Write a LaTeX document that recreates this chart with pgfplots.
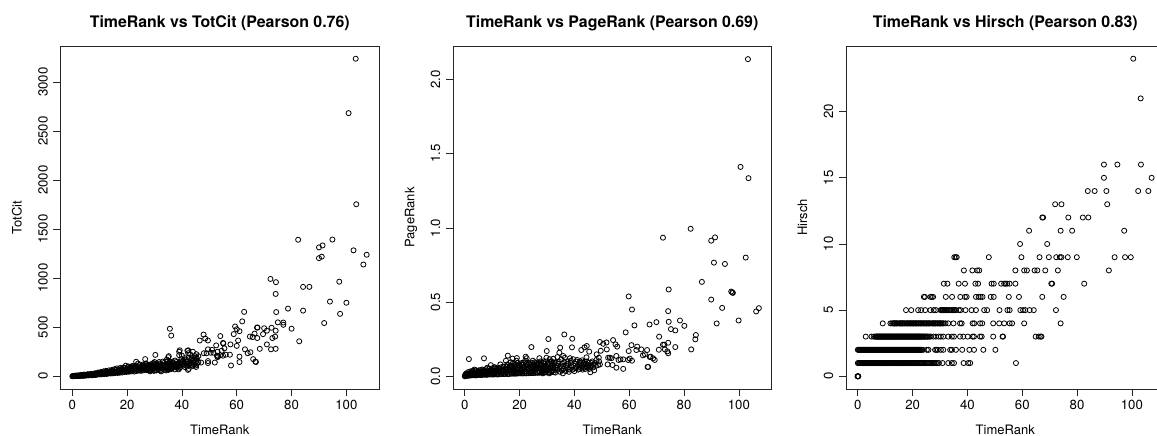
\documentclass[border=0pt]{standalone}
\usepackage{pgfplots}
\usepackage{fontspec}
\setmainfont{TeX Gyre Heros}
\pgfplotsset{compat=1.18}
\pgfplotsset{rstyle/.style={
  scale only axis, width=318.5pt, height=343pt,
  axis line style={line width=0.75pt,black!85},
  tick style={line width=0.7pt,black!85},
  tick align=outside, major tick length=7pt,
  xtick pos=bottom, ytick pos=left,
  xmin=-4.3, xmax=111.9,
  xtick={0,20,40,60,80,100},
  xticklabels={0,20,40,60,80,100},
  ticklabel style={font=\fontsize{13.2pt}{15pt}\selectfont},
  xticklabel style={anchor=center,yshift=-9pt},
  yticklabel style={rotate=90,anchor=center,yshift=10.5pt},
  label style={font=\fontsize{13pt}{15pt}\selectfont},
  xlabel=TimeRank,
  xlabel style={at={(axis description cs:0.5,0)},anchor=center,yshift=-41.3pt},
  title style={at={(axis description cs:0.5,1)},anchor=center,yshift=16.5pt,font=\fontsize{15.9pt}{18pt}\selectfont\bfseries},
  pts/.style={only marks,mark=o,mark size=2.55pt,mark options={line width=0.8pt,draw=black,fill=none}},
}}
\begin{document}
\begin{tikzpicture}
\path[use as bounding box] (0pt,0pt) rectangle (1157pt,436pt);
% ---------- Panel 1
\begin{axis}[rstyle,at={(60.5pt,47pt)},anchor=south west,
  ymin=-130,ymax=3370,
  ytick={0,500,1000,1500,2000,2500,3000},
  yticklabels={0,500,1000,1500,2000,2500,3000},
  ylabel=TotCit,
  ylabel style={at={(axis description cs:0,0.5)},rotate=0,anchor=center,yshift=43.5pt},
  title={TimeRank vs TotCit (Pearson 0.76)}]
\addplot[pts] coordinates {
(103.4,3240)(100.8,2685)(103.6,1755)(82.4,1393)(94.9,1395)(91.3,1335)(90,1315)(102.6,1285)(107.4,1240)(106.2,1140)(91,1220)(90,1205)
(72.3,993)(74.3,960)(97.4,965)(84.2,912)(86.5,912)(74.2,840)(94,762)(100,750)(78.7,690)(84.2,670)(74.4,655)(62.7,657)(97.7,637)
(75,550)(77,548)(77,525)(62,560)(91.9,543)(59.4,508)(60,480)(61,460)(67.4,497)(67.6,497)(70,490)(72.7,495)(71,465)(74.2,465)(80,485)
(58.9,430)(64.8,405)(65.8,400)(66.5,435)(67.5,390)(69.6,430)(73,390)(74,405)(82.8,357)(60.5,365)(60,310)(57.7,325)(55,340)(55.1,335)
(54,410)(52.5,315)(47.9,425)(48.5,385)(49.5,365)(46.5,365)(35.6,485)(36.1,415)(71,325)(68.4,280)(72.5,275)(74.2,280)(63,275)(64,235)
(65,245)(66,175)(67,145)(66.8,150)(61,200)(61,145)(57.9,110)(49.5,275)(51,270)(53,250)(54.5,260)(55.5,285)(56,220)(57.5,220)(55,210)(54,215)
(53,195)(52.8,210)(53.2,205)(52,140)(49.5,135)(49.5,155)(48,235)(49,235)(50.5,240)(51.5,240)(46,145)(47,140)(44,105)(45,110)(45.5,130)
(45.3,225)(45,190)(44.5,170)(44,250)(43,225)(42.3,265)(42,260)(42.3,235)(41.5,170)(42,100)(42.2,65)(42.5,75)(41,120)(40,140)(40,210)(39.2,265)(39,250)(39,215)(38.8,70)
(38,120)(37,130)(36.5,150)(35.2,205)(35,195)(30.3,218)(26.6,175)(23.3,148)(19.5,108)(24,130)
(0,0)(0.2,1)(0.4,2)(0.6,1)(0.8,3)(1,2)(1.2,4)(1.5,3)(1.8,6)(2,4)(2.3,8)(2.6,4)(3,10)(3,4)(3.5,6)(3.8,12)(4,5)(4.5,14)(4.7,6)(5,16)(5.2,8)(5.8,19)(6,9)
(6.5,20)(7,10)(7.2,24)(7.8,12)(8,26)(8.5,14)(8.7,29)(9,16)(9.6,32)(10,18)(10.4,36)(10.8,20)(11,39)(11.6,22)(11.9,42)(12.4,24)(12.8,45)(13,26)(13.6,48)
(14,28)(14.3,52)(14.8,30)(15,58)(15.5,32)(15.8,45)(16,65)(16.5,34)(16.7,50)(17,70)(17.3,36)(17.6,55)(18,75)(18.2,38)(18.4,58)(18.9,42)(19,62)(19.2,85)
(19.8,44)(20,68)(20.2,92)(20.7,46)(21,72)(21.2,95)(21.6,50)(22,78)(22.2,100)(22.6,48)(23,82)(23.2,110)(23.5,55)(24,85)(24,60)(24.5,115)(25,90)(25,55)(25.5,70)(25.8,120)
(26,95)(26,60)(26.5,78)(26.8,130)(27,100)(27.2,62)(27.5,80)(28,110)(28,70)(28.4,50)(28.8,90)(29,125)(29.3,70)(29.8,55)(30,105)(30,145)(30.3,80)(30.8,60)
(31,120)(31,90)(31.5,70)(32,130)(32,100)(32.4,50)(32.8,80)(33,150)(33,110)(33.5,65)(34,120)(34,90)(34.5,170)(34.8,70)(35,135)(35.2,105)(35.5,75)(36,125)(36,95)(36.5,110)(37,90)(37.5,160)
(38,145)(38.5,100)(39,130)(39.5,95)(39.8,175)(40.5,110)(41,185)(41.5,130)(42,150)(42.8,125)(43.3,165)(43.8,110)(44.2,140)(44.8,205)(45.2,95)(43.6,190)
(0.3,3)(0.9,5)(1.4,7)(1.9,3)(2.4,6)(2.9,9)(3.3,13)(3.7,7)(4.2,9)(4.3,17)(4.9,11)(5.4,13)(5.6,20)(6.2,13)(6.7,16)(6.9,25)(7.4,14)(7.6,18)(8.1,18)(8.3,30)(8.8,20)(9.3,22)(9.4,38)(9.8,24)(10.2,26)(10.5,44)(10.9,28)(11.2,30)(11.4,50)(11.8,28)(12.1,33)(12.3,55)(12.6,30)(13.2,36)(13.4,60)(13.8,35)(14.1,40)(14.5,65)(14.7,38)(15.1,42)(15.4,72)(15.7,38)(16.1,46)(16.3,80)(16.6,40)(16.9,58)(17.2,45)(17.5,85)(17.9,50)(18.1,66)(18.6,48)(18.7,90)(19.1,55)(19.4,72)(19.7,50)(20.1,60)(20.4,80)(20.5,100)(20.9,55)(21.1,65)(21.4,85)(21.7,60)(21.9,105)(22.4,65)(22.5,90)(22.8,70)(23.1,55)(23.4,95)(23.7,70)(24.2,60)(24.3,100)(24.7,75)(25.2,65)(25.3,105)(25.7,85)(26.2,70)(26.3,112)(26.7,90)(27.1,75)(27.4,115)(27.7,95)(28.2,85)(28.5,120)(28.7,62)(29.1,105)(29.5,80)(29.6,135)(30.1,60)(30.5,95)(30.6,125)(31.2,75)(31.4,110)(31.7,145)(32.1,60)(32.5,90)(32.6,120)(33.1,75)(33.4,135)(33.7,100)(34.2,60)(34.4,85)(34.6,150)(35.1,65)(35.4,115)(35.6,145)(36.2,75)(36.4,85)(36.7,135)(37.2,105)(37.4,70)(37.8,125)(38.2,85)(38.7,115)(39.2,85)(39.4,150)
(25,75)(26,110)(27,125)(28,60)(29,100)(30,125)(31,105)(32,85)(33,90)(34,105)(35,90)(36,110)(37,110)(38,95)(38.5,130)(39,110)(40,125)(40.5,160)(41,95)(41.5,150)(42,130)(42.5,190)(43,140)(43.5,120)(44,160)(44.5,120)(45,150)(45.5,180)(46,205)
};
\end{axis}
% ---------- Panel 2
\begin{axis}[rstyle,at={(453pt,47pt)},anchor=south west,
  ymin=-0.0856,ymax=2.2256,
  ytick={0,0.5,1,1.5,2},
  yticklabels={0.0,0.5,1.0,1.5,2.0},
  ylabel=PageRank,
  ylabel style={at={(axis description cs:0,0.5)},rotate=0,anchor=center,yshift=42pt},
  title={TimeRank vs PageRank (Pearson 0.69)}]
\addplot[pts] coordinates {
(103.3,2.137)(100.6,1.411)(103.5,1.335)(82.4,0.994)(72.3,0.934)(91.3,0.936)(89.9,0.914)(102.5,0.80)(90.9,0.766)(94.9,0.757)(86.5,0.636)(74.4,0.585)
(97.2,0.571)(97.8,0.562)(97.6,0.565)(59.8,0.538)(89.9,0.517)(93.9,0.461)(107.3,0.459)(106.3,0.437)(61,0.45)(74.2,0.439)(99.9,0.376)(78.5,0.376)(74.4,0.367)(69.9,0.365)
(67.4,0.349)(91.9,0.356)(61.9,0.343)(80.1,0.34)(75.2,0.318)(76.8,0.309)(58.7,0.296)(84.3,0.278)(84.1,0.249)(70.9,0.267)(72.3,0.213)(72.8,0.213)(74.2,0.226)(76.8,0.197)
(82.6,0.181)(73,0.181)(70.8,0.179)(73.9,0.168)(74.2,0.155)(60.8,0.21)(62.9,0.2)(64.4,0.181)(62.6,0.177)(66.5,0.177)(65.7,.148)(65,.141)(67.8,.132)(67.5,.13)(68.7,.121)(69.3,.11)
(59.8,.17)(66.7,.063)(66.9,.063)(49.3,.231)(50.5,.219)(51.7,.228)(54.1,.244)(55,.215)(55.6,.2)(51.8,.181)(49.6,.172)(44.5,.204)(43.7,.195)(42.5,.177)(45.4,.166)(48.1,.148)(44.4,.128)
(39.2,.253)(39.1,.195)(36.3,.282)(30.5,.251)(24.3,.197)(29.9,.17)(34.8,.193)(34.5,.159)(35.9,.137)(15.7,.139)(1.5,.116)(7,.121)(17.4,.119)(19,.123)(22.2,.132)(22.6,.122)
(52.3,.125)(52.9,.125)(53.5,.122)(55.3,.137)(56.1,.11)(56.8,.114)(57.8,.114)(59.6,.11)(60.2,.119)(61,.105)(52.1,.08)(53.9,.076)(55.3,.058)(57.8,.05)(49.3,.08)(48.9,.125)(45.8,.027)(47.2,.04)
(0,0)(0.1,.005)(0.2,.012)(0.4,.002)(0.6,.02)(0.8,.006)(1,.016)(1.2,.028)(1.5,.004)(1.8,.015)(2,.033)(2.3,.008)(2.6,.022)(3,.036)(3.2,.01)(3.5,.045)(3.8,.02)(4,.006)(4.5,.03)(5,.012)(5.2,.04)(5.5,.022)
(6,.008)(6.2,.032)(6.8,.015)(7,.042)(7.5,.024)(8,.01)(8.2,.058)(8.6,.035)(9,.018)(9.5,.075)(9.8,.045)(10,.012)(10.5,.028)(10.8,.062)(11,.018)(11.5,.04)(12,.012)(12.3,.052)(12.8,.028)(13,.08)(13.4,.016)(13.8,.04)
(14,.065)(14.5,.018)(14.8,.05)(15,.105)(15.3,.03)(15.8,.075)(16,.016)(16.4,.045)(16.8,.095)(17,.025)(17.3,.06)(17.8,.02)(18,.085)(18.3,.04)(18.8,.105)(19,.02)(19.3,.055)(19.8,.075)(20,.025)(20.4,.04)(20.8,.09)
(21,.02)(21.3,.06)(21.8,.032)(22,.105)(22.3,.02)(22.8,.075)(23,.045)(23.4,.09)(23.8,.022)(24,.06)(24.4,.035)(24.8,.105)(25,.022)(25.4,.07)(25.8,.045)(26,.09)(26.4,.025)(26.8,.058)(27.2,.122)(27.5,.032)(27.8,.08)
(28,.05)(28.4,.02)(28.8,.1)(29,.065)(29.4,.03)(29.8,.125)(30,.045)(30.3,.085)(30.8,.02)(31,.115)(31.3,.06)(31.8,.035)(32,.09)(32.3,.118)(32.8,.05)(33,.025)(33.3,.075)(33.8,.13)(34,.045)(34.3,.1)
(34.8,.03)(35,.065)(35.2,.115)(35.5,.085)(35.8,.02)(36,.05)(36.5,.125)(36.8,.035)(37,.075)(37.5,.1)(37.8,.05)(38,.03)(38.4,.122)(38.8,.09)(39,.065)(39.3,.045)(39.6,.115)(40,.035)(40.3,.085)(40.8,.06)
(41,.11)(41.4,.045)(41.8,.075)(42.2,.09)(42.5,.055)(42.8,.108)(43,.045)(43.4,.08)(43.8,.1)(44,.05)(44.4,.07)(44.8,.06)(45.2,.09)(45.6,.065)(46.2,.09)(46.8,.06)(47.5,.09)(48,.11)(48.6,.075)(49,.1)
(0.3,.004)(1.1,.005)(1.7,.007)(2.4,.006)(3.1,.007)(3.7,.008)(4.3,.008)(4.9,.009)(5.7,.01)(6.5,.01)(7.2,.011)(7.8,.012)(8.4,.012)(9.2,.012)(10.3,.013)(10.9,.013)(11.7,.014)(12.5,.014)(13.2,.015)(14.2,.015)(14.9,.016)(15.6,.016)(16.2,.016)(17.2,.017)(18.1,.018)(18.6,.018)(19.5,.019)(20.2,.02)(20.9,.02)(21.6,.02)(22.5,.021)(23.2,.021)(24.2,.022)(24.9,.023)(25.7,.023)(26.6,.024)(27.3,.024)(28.2,.025)(29,.025)(29.6,.026)(30.5,.027)(31.5,.027)(32.5,.028)
(0.7,.012)(1.4,.018)(2.1,.02)(2.8,.024)(3.4,.026)(4.1,.024)(4.7,.028)(5.4,.03)(6.1,.028)(6.6,.03)(7.3,.033)(7.9,.03)(8.5,.034)(9.1,.036)(9.7,.035)(10.2,.038)(10.7,.036)(11.3,.038)(11.9,.036)(12.6,.04)(13.1,.042)(13.7,.044)(14.4,.042)(15.1,.044)(15.7,.046)(16.3,.04)(16.9,.046)(17.6,.05)(18.2,.046)(18.9,.05)(19.6,.044)(20.3,.05)(21,.048)(21.6,.054)(22.2,.05)(22.9,.056)(23.6,.052)(24.3,.058)(25,.05)(25.6,.058)(26.2,.052)(27,.06)(27.7,.054)(28.6,.058)(29.2,.05)(29.9,.06)(30.6,.052)(31.2,.06)(32.2,.055)
(2.6,.034)(4.2,.04)(5.8,.042)(6.4,.046)(7.7,.048)(8.9,.052)(10.1,.055)(11.1,.055)(12,.058)(13.2,.06)(14.2,.062)(15.2,.065)(16.2,.062)(17.1,.07)(18.1,.068)(19.1,.072)(20.1,.07)(21.1,.075)(22.1,.07)(23.1,.076)(24.1,.075)(25.1,.08)(26.1,.075)(27.1,.085)(28.1,.075)(29.1,.085)(30.1,.07)(31.1,.085)(32.1,.075)(33.1,.095)
(28.5,.04)(29.5,.07)(30.5,.05)(31.5,.1)(32.5,.04)(33.5,.06)(34.1,.085)(34.6,.05)(35.4,.04)(36,.07)(36.3,.095)(37.2,.06)(37.7,.085)(38.2,.045)(38.7,.105)(39.5,.075)(40.2,.055)(40.6,.1)(41.2,.07)(41.7,.05)(42,.1)(42.7,.07)(43.2,.09)(43.6,.06)(44.2,.085)(44.6,.1)(45,.075)(45.4,.05)(46,.07)(46.5,.1)(47,.08)(47.8,.07)
(15.5,.08)(16.6,.07)(17.6,.09)(18.5,.075)(19.4,.09)(20.6,.08)(21.5,.09)(22.5,.085)(23.6,.085)(24.6,.09)(25.6,.095)(26.6,.085)(27.6,.1)(28.6,.09)(29.6,.1)(30.6,.09)(31.6,.1)(32.6,.09)
(0.9,.01)(2.2,.013)(3.6,.015)(4.8,.018)(6.3,.02)(7.6,.02)(8.9,.024)(10.6,.022)(12.2,.024)(13.6,.026)(15.1,.024)(16.6,.03)(18,.028)(19.2,.03)(20.6,.032)(22,.034)(23.4,.034)(25.2,.035)(26.6,.036)(28.2,.035)(29.8,.04)(31.6,.04)
};
\end{axis}
% ---------- Panel 3
\begin{axis}[rstyle,at={(846pt,47pt)},anchor=south west,
  ymin=-0.96,ymax=24.96,
  ytick={0,5,10,15,20},
  yticklabels={0,5,10,15,20},
  ylabel=Hirsch,
  ylabel style={at={(axis description cs:0,0.5)},rotate=0,anchor=center,yshift=43.5pt},
  title={TimeRank vs Hirsch (Pearson 0.83)}]
\addplot[pts] coordinates {
(100.5,24)(103.2,21)(89.8,16)(94.7,16)(103.3,16)(89.8,15)(107.2,15)(83.9,14)(86.4,14)(90.7,14)(102.3,14)(106,14)(72,13)(74.3,13)(91,13)
(67.3,12)(67.6,12)(76.8,12)(82.1,12)(84.1,12)(62.5,11)(74,11)(78.2,11)(97.2,11)(59.2,10)(69.1,10)
(35.2,9)(35.7,9)(36.1,9)(47.8,9)(59.7,9)(66.3,9)(69.7,9)(72.4,9)(73.7,9)(74.3,9)(76.6,9)(79.9,9)(93.7,9)(97.5,9)(99.6,9)
(38.7,8)(41.8,8)(43.6,8)(44.3,8)(57.5,8)(60.7,8)(61.7,8)(64.5,8)(65.5,8)(68.4,8)(73,8)(91.6,8)
(31.4,7)(32.7,7)(36.8,7)(39.1,7)(42.9,7)(43.9,7)(48.8,7)(49.6,7)(52.3,7)(53.4,7)(53.9,7)(54.5,7)(55.4,7)(57.5,7)(70.6,7)(70.9,7)(82.6,7)
(24.1,6)(24.5,6)(26.5,6)(27,6)(27.5,6)(32.1,6)(34.4,6)(37.4,6)(39.1,6)(39.7,6)(43.1,6)(44.1,6)(44.8,6)(45.5,6)(48.5,6)(49.6,6)(55.1,6)(58.8,6)(67.3,6)(75.1,6)
(17.6,5)(19.5,5)(22,5)(23.1,5)(24.6,5)(26.5,5)(27.7,5)(28.5,5)(30.5,5)(31,5)(31.5,5)(32.1,5)(33.3,5)(34.4,5)(35.8,5)(36.9,5)(37.5,5)(39.3,5)(41.5,5)(43.1,5)(46.1,5)(47.2,5)(51.7,5)(54.6,5)(55.4,5)(59.3,5)(60.3,5)(61.1,5)(62.7,5)(64.2,5)(72.3,5)
(30.2,5)(30.8,5)(31.2,5)(31.8,5)(32.4,5)(32.8,5)(33.8,5)(34.9,5)(35.4,5)
(9.1,4)(11.9,4)(12.5,4)(13.2,4)(14,4)(15,4)(15.7,4)(16.5,4)(17.2,4)(18,4)(18.8,4)(19.5,4)(20.2,4)(21.1,4)(21.9,4)(22.8,4)(23.6,4)(24.5,4)(25.4,4)(26.3,4)(27.2,4)(28,4)(28.9,4)(29.8,4)(30.6,4)(31.3,4)(32,4)(33,4)(34.9,4)(37.3,4)(37.9,4)(41.9,4)(42.5,4)(44.6,4)(45.4,4)(49.4,4)(51.6,4)(53.4,4)(55.4,4)(56.3,4)(60.7,4)(74,4)
(12.9,4)(13.6,4)(14.4,4)(15.3,4)(16.1,4)(16.9,4)(17.6,4)(18.4,4)(19.1,4)(19.9,4)(20.6,4)(21.5,4)(22.4,4)(23.2,4)(24,4)(24.9,4)(25.8,4)(26.7,4)(27.6,4)(28.4,4)(29.3,4)(30.2,4)
(13.4,4)(14.2,4)(15.5,4)(16.3,4)(18.2,4)(19.3,4)(20.4,4)(21.3,4)(22.2,4)(23,4)(24.2,4)(25.1,4)(26,4)(27.4,4)(28.2,4)(29.1,4)(30,4)(31,4)
(6.9,3)(7.5,3)(8.1,3)(8.7,3)(9.3,3)(9.9,3)(10.5,3)(11.1,3)(11.7,3)(12.3,3)(12.9,3)(13.5,3)(14.1,3)(14.7,3)(15.3,3)(15.9,3)(16.5,3)(17.1,3)(17.7,3)(18.3,3)(18.9,3)(19.5,3)(20.1,3)(20.7,3)(21.3,3)(21.9,3)(22.5,3)(23.1,3)(23.8,3)(24.6,3)(25.4,3)(26.2,3)
(2.9,3)(5,3)(5.8,3)(6.3,3)(7,3)(7.6,3)(8.2,3)(8.8,3)(9.4,3)(10,3)(10.6,3)(11.2,3)(11.8,3)(12.4,3)(13,3)(13.6,3)(14.2,3)(14.8,3)(15.4,3)(16,3)(16.6,3)(17.2,3)(17.8,3)(18.4,3)(19,3)(19.6,3)(20.2,3)(20.8,3)(21.4,3)(22,3)(22.6,3)(23.2,3)(24,3)(24.8,3)(25.7,3)(26.6,3)(27.6,3)(28.5,3)(29.5,3)(30.3,3)(31.2,3)(33,3)(34.3,3)(35.1,3)(37.3,3)(38.5,3)(40.1,3)(41.9,3)(42.4,3)(44.6,3)(45.2,3)(49.4,3)(52.8,3)(53,3)(64.9,3)(66,3)(66.7,3)(67,3)
(6.6,3)(7.3,3)(7.9,3)(8.5,3)(9.1,3)(9.7,3)(10.3,3)(10.9,3)(11.5,3)(12.1,3)(12.7,3)(13.3,3)(13.9,3)(14.5,3)(15.1,3)(15.7,3)(16.3,3)(16.9,3)(17.5,3)(18.1,3)(18.7,3)(19.3,3)(19.9,3)(20.5,3)(21.1,3)(21.7,3)(22.3,3)(22.9,3)(23.6,3)(24.4,3)(25.2,3)
(0,2)(0.3,2)(0.8,2)(1.3,2)(1.8,2)(2.3,2)(2.8,2)(3.3,2)(3.8,2)(4.3,2)(4.8,2)(5.3,2)(5.8,2)(6.3,2)(6.8,2)(7.3,2)(7.8,2)(8.3,2)(8.8,2)(9.3,2)(9.8,2)(10.3,2)(10.8,2)(11.3,2)(11.8,2)(12.3,2)(12.8,2)(13.3,2)(13.8,2)(14.3,2)(14.8,2)(15.3,2)(15.8,2)(16.3,2)(16.8,2)(17.3,2)(17.8,2)(18.3,2)(18.8,2)(19.3,2)(19.8,2)(20.3,2)(20.8,2)(21.3,2)(21.8,2)(22.3,2)(22.8,2)(23.3,2)(23.8,2)(25.2,2)(25.8,2)(28.2,2)(28.7,2)(29.2,2)(30.3,2)(31.2,2)(33.7,2)(34.3,2)(35.8,2)(38.1,2)(40.7,2)(42.4,2)(45.8,2)(50.2,2)
(0.55,2)(1.05,2)(1.55,2)(2.05,2)(2.55,2)(3.05,2)(3.55,2)(4.05,2)(4.55,2)(5.05,2)(5.55,2)(6.05,2)(6.55,2)(7.05,2)(7.55,2)(8.05,2)(8.55,2)(9.05,2)(9.55,2)(10.05,2)(10.55,2)(11.05,2)(11.55,2)(12.05,2)(12.55,2)(13.05,2)(13.55,2)(14.05,2)(14.55,2)(15.05,2)(15.55,2)(16.05,2)(16.55,2)(17.05,2)(17.55,2)(18.05,2)(18.55,2)(19.05,2)(19.55,2)(20.05,2)(20.55,2)(21.05,2)(21.55,2)(22.05,2)(22.55,2)(23.05,2)
(0,1)(0.3,1)(0.8,1)(1.3,1)(1.8,1)(2.3,1)(2.8,1)(3.3,1)(3.8,1)(4.3,1)(4.8,1)(5.3,1)(5.8,1)(6.3,1)(6.8,1)(7.3,1)(7.8,1)(8.3,1)(8.8,1)(9.3,1)(9.8,1)(10.3,1)(10.8,1)(11.3,1)(11.8,1)(12.3,1)(12.8,1)(13.3,1)(13.8,1)(14.3,1)(14.8,1)(15.3,1)(15.8,1)(16.3,1)(16.8,1)(17.3,1)(17.8,1)(18.3,1)(18.8,1)(19.3,1)(19.8,1)(20.4,1)(21.1,1)(21.8,1)(22.6,1)(23.3,1)(24,1)(24.8,1)(25.6,1)(26.4,1)(27.2,1)(28,1)(29,1)(29.6,1)(30.9,1)(33,1)(34.3,1)(35.1,1)(38.6,1)(40.3,1)(41,1)(57.7,1)
(0.55,1)(1.05,1)(1.55,1)(2.05,1)(2.55,1)(3.05,1)(3.55,1)(4.05,1)(4.55,1)(5.05,1)(5.55,1)(6.05,1)(6.55,1)(7.05,1)(7.55,1)(8.05,1)(8.55,1)(9.05,1)(9.55,1)(10.05,1)(10.55,1)(11.05,1)(11.55,1)(12.05,1)(12.55,1)(13.05,1)(13.55,1)(14.05,1)(14.55,1)(15.05,1)(15.55,1)(16.05,1)(16.55,1)(17.05,1)(17.55,1)(18.05,1)(18.55,1)(19.05,1)(19.55,1)(20.1,1)(20.75,1)(21.45,1)(22.2,1)(22.95,1)(23.65,1)(24.4,1)(25.2,1)(26,1)(26.8,1)(27.6,1)(28.5,1)
(-0.1,0)(0,0)(0.1,0)(0.2,0)
};
\end{axis}
\end{tikzpicture}
\end{document}
